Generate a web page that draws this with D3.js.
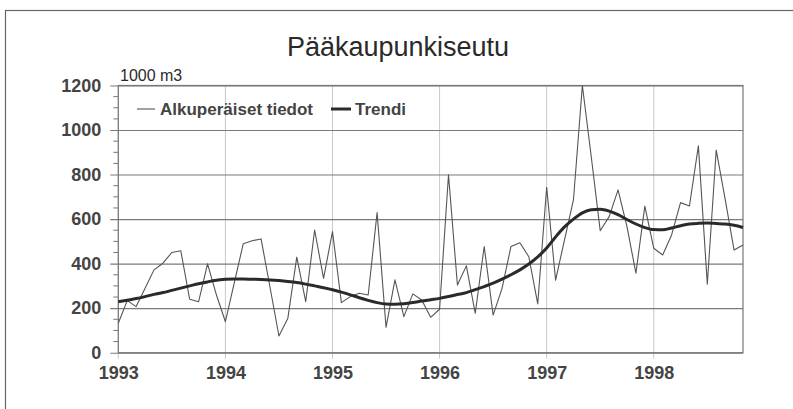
<!DOCTYPE html>
<html><head><meta charset="utf-8">
<script src="https://cdn.jsdelivr.net/npm/d3@7"></script>
<style>
html,body{margin:0;padding:0;background:#fff;}
svg{display:block;font-family:"Liberation Sans",Arial,sans-serif;}
</style></head>
<body><svg id="c" width="793" height="409"></svg>
<script>
const title = "Pääkaupunkiseutu";
const unitLabel = "1000 m3";
const seriesNames = ["Alkuperäiset tiedot", "Trendi"];
const yearLabels = ["1993","1994","1995","1996","1997","1998"];
const yTicks = [0,200,400,600,800,1000,1200];
// monthly values Jan 1993 .. Nov 1998
const original = [132,234,207,289,372,402,450,458,240,229,399,259,
  139,315,489,503,511,294,75,155,429,229,551,334,
  544,225,252,267,259,629,114,327,162,264,237,159,
  195,799,304,390,177,477,169,289,477,494,431,219,
  743,326,507,686,1200,879,548,611,731,566,357,658,
  469,439,529,674,659,929,308,910,690,461,484];
const trend = [229,236,243,252,262,270,280,290,300,310,318,325,
  330,331,331,330,329,327,324,320,315,308,300,292,
  283,272,260,247,235,225,219,218,220,225,232,238,
  244,252,261,270,283,297,312,330,350,372,398,430,
  470,520,565,600,628,642,644,636,620,598,578,562,
  553,552,560,570,578,581,582,580,578,572,562];

const svg = d3.select("#c");
const L = 118.3, R = 743, T = 85.5, B = 352.7;
const x = d3.scaleLinear().domain([0, original.length - 1]).range([L, R]);
const y = d3.scaleLinear().domain([0, 1200]).range([B, T]);

// outer frame
svg.append("rect").attr("x",5.5).attr("y",10.5).attr("width",820).attr("height",420)
  .attr("fill","none").attr("stroke","#666").attr("stroke-width",1.2);

// title
svg.append("text").attr("x",398).attr("y",56).attr("text-anchor","middle")
  .attr("font-size",27).attr("fill","#2a2a2a").text(title);
svg.append("text").attr("x",120).attr("y",81).attr("font-size",16).attr("fill","#2a2a2a").text(unitLabel);

// vertical gridlines (years)
const yearIdx = yearLabels.map((d,i)=>i*12);
svg.append("g").selectAll("line").data(yearIdx).join("line")
  .attr("x1",d=>x(d)).attr("x2",d=>x(d)).attr("y1",T).attr("y2",B+6)
  .attr("stroke","#c8c8c8").attr("stroke-width",1);

// minor y ticks
const minor = d3.range(0,1201,50).filter(v=>v%200!==0);
svg.append("g").selectAll("line").data(minor).join("line")
  .attr("x1",L-5).attr("x2",L).attr("y1",d=>y(d)).attr("y2",d=>y(d))
  .attr("stroke","#777").attr("stroke-width",1);

// horizontal gridlines via axis
const yAxis = d3.axisLeft(y).tickValues(yTicks).tickSize(-(R-L)).tickPadding(0).tickFormat(d3.format("d"));
const gy = svg.append("g").attr("transform",`translate(${L},0)`).call(yAxis);
gy.select(".domain").remove();
gy.selectAll(".tick line").attr("x1",-8).attr("stroke","#7a7a7a").attr("stroke-width",1.1);
gy.selectAll(".tick text").attr("x",-17).attr("font-size",18).attr("font-weight","bold")
  .attr("fill","#444").attr("font-family","Liberation Sans, Arial, sans-serif");

// x axis labels
const xAxis = d3.axisBottom(x).tickValues(yearIdx).tickSize(0).tickPadding(0)
  .tickFormat((d,i)=>yearLabels[i]);
const gx = svg.append("g").attr("transform",`translate(0,${B})`).call(xAxis);
gx.select(".domain").remove();
gx.selectAll(".tick text").attr("y",14).attr("font-size",18).attr("font-weight","bold")
  .attr("fill","#444").attr("font-family","Liberation Sans, Arial, sans-serif");

// plot border
svg.append("rect").attr("x",L).attr("y",T).attr("width",R-L).attr("height",B-T)
  .attr("fill","none").attr("stroke","#777").attr("stroke-width",1.2);

// lines
const line = d3.line().x((d,i)=>x(i)).y(d=>y(d));
const lineS = d3.line().x((d,i)=>x(i)).y(d=>y(d)).curve(d3.curveMonotoneX);
svg.append("path").datum(original).attr("d",line).attr("fill","none")
  .attr("stroke","#555").attr("stroke-width",1.1).attr("stroke-linejoin","round");
svg.append("path").datum(trend).attr("d",lineS).attr("fill","none")
  .attr("stroke","#2a2a2a").attr("stroke-width",3).attr("stroke-linejoin","round");

// legend
const lg = svg.append("g");
lg.append("line").attr("x1",137).attr("x2",155).attr("y1",109).attr("y2",109)
  .attr("stroke","#555").attr("stroke-width",1.1);
lg.append("text").attr("x",160).attr("y",115).attr("font-size",17).attr("font-weight","bold")
  .attr("fill","#444").text(seriesNames[0]);
lg.append("line").attr("x1",331).attr("x2",351).attr("y1",109).attr("y2",109)
  .attr("stroke","#2a2a2a").attr("stroke-width",3);
lg.append("text").attr("x",355).attr("y",115).attr("font-size",17).attr("font-weight","bold")
  .attr("fill","#444").text(seriesNames[1]);
</script></body></html>
